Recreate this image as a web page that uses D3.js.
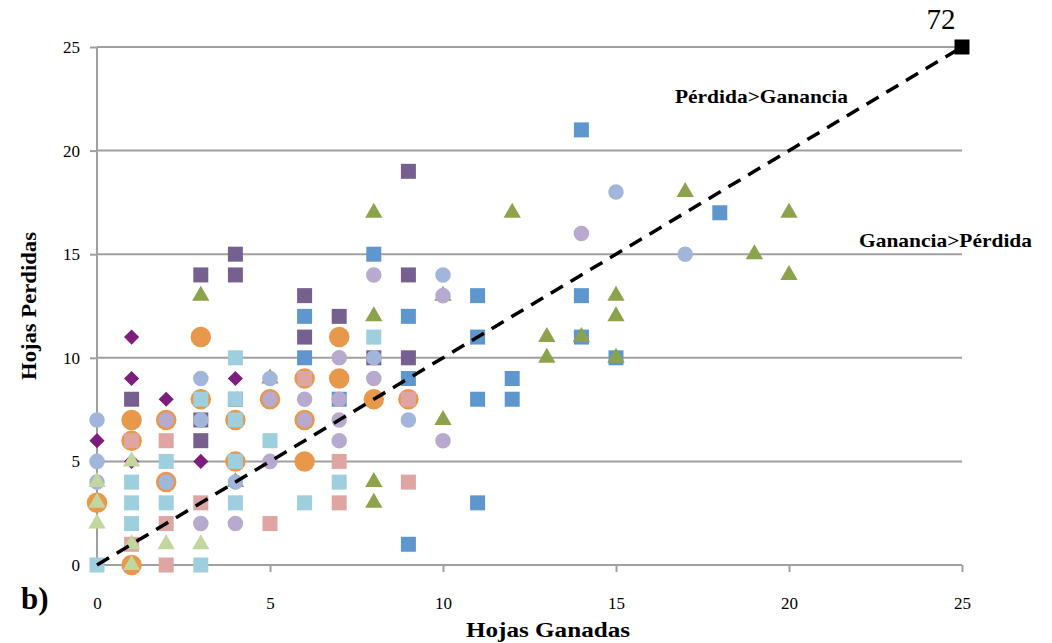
<!DOCTYPE html>
<html><head><meta charset="utf-8">
<script src="https://cdn.jsdelivr.net/npm/d3@7"></script>
<style>body{margin:0;background:#fff}svg{display:block}</style>
</head><body>
<svg id="c" width="1052" height="643"></svg>
<script>
const xTicks = [0,5,10,15,20,25];
const yTicks = [0,5,10,15,20,25];
const blueSq = [[6,12],[6,10],[7,8],[8,15],[9,12],[9,9],[9,1],[11,13],[11,11],[11,8],[11,3],[12,9],[12,8],[14,21],[14,13],[14,11],[15,10],[18,17]];
const oliveTri = [[3,13],[4,4],[5,9],[8,17],[8,12],[8,4],[8,3],[10,13],[10,7],[12,17],[13,11],[13,10],[14,11],[15,13],[15,12],[15,10],[17,18],[19,15],[20,17],[20,14]];
const purpleSq = [[1,8],[3,14],[3,7],[3,6],[4,15],[4,14],[4,8],[6,13],[6,11],[7,12],[8,10],[9,19],[9,14],[9,10]];
const diamonds = [[0,6],[1,11],[1,9],[1,5],[2,8],[3,5],[4,9]];
const orange = [[0,3],[1,7],[1,6],[1,0],[2,7],[2,4],[3,11],[3,8],[4,7],[4,5],[5,8],[6,9],[6,7],[6,5],[7,11],[7,9],[8,8],[9,8]];
const periwinkle = [[0,7],[0,5],[0,4],[2,4],[3,9],[3,7],[4,4],[5,9],[8,10],[9,7],[10,14],[15,18],[17,15]];
const lavender = [[2,7],[3,2],[4,2],[5,8],[5,5],[6,8],[6,7],[7,10],[7,8],[7,7],[7,6],[8,14],[8,9],[10,13],[10,6],[14,16]];
const pink = [[1,6],[1,1],[2,6],[2,2],[2,0],[3,3],[5,2],[6,9],[7,5],[7,3],[9,8],[9,4]];
const lightBlue = [[0,0],[1,4],[1,3],[1,2],[2,5],[2,3],[3,8],[3,0],[4,10],[4,8],[4,7],[4,5],[4,3],[5,6],[6,3],[7,4],[8,11]];
const lightGreen = [[0,4],[0,3],[0,2],[1,5],[1,1],[1,0],[2,1],[3,1]];
const totalPoint = [[25,25]];
const totalLabel = "72";
const refLine = [[0,0],[25,25]];

const svg = d3.select("#c");
const x = d3.scaleLinear().domain([0,25]).range([97,962]);
const y = d3.scaleLinear().domain([0,25]).range([565,47]);
const serif = "'Liberation Serif','Times New Roman',serif";

// gridlines
svg.append("g").selectAll("line").data(yTicks.filter(d=>d>0)).join("line")
  .attr("x1",x(0)).attr("x2",x(25)).attr("y1",d=>y(d)).attr("y2",d=>y(d))
  .attr("stroke","#a0a0a0").attr("stroke-width",2);

// axes
const ya = svg.append("g").attr("transform",`translate(${x(0)},0)`)
  .call(d3.axisLeft(y).tickValues(yTicks).tickSize(7).tickPadding(10));
const xa = svg.append("g").attr("transform",`translate(0,${y(0)})`)
  .call(d3.axisBottom(x).tickValues(xTicks).tickSize(7).tickPadding(25));
[ya,xa].forEach(a=>{
  a.select(".domain").attr("stroke","#a0a0a0").attr("stroke-width",2);
  a.selectAll(".tick line").attr("stroke","#a0a0a0").attr("stroke-width",2);
  a.selectAll(".tick text").attr("font-family",serif).attr("font-size",17).attr("fill","#000");
});
ya.select(".domain").attr("d",`M0,${y(0)}V${y(25)}`);
xa.select(".domain").attr("d",`M${x(0)},0H${x(25)}`);

function series(data,type,size,fill,rot){
  svg.append("g").selectAll("path").data(data).join("path")
    .attr("transform",d=>`translate(${x(d[0])},${y(d[1])})${rot?` rotate(${rot})`:""}`)
    .attr("d",d3.symbol().type(type).size(size)()).attr("fill",fill);
}
series(blueSq,d3.symbolSquare,225,"#5e97cd");
series(oliveTri,d3.symbolTriangle,130,"#8ca34c");
series(purpleSq,d3.symbolSquare,225,"#76608f");
series(diamonds,d3.symbolSquare,115,"#7d1e7e",45);
series(orange,d3.symbolCircle,330,"#e8984a");
series(periwinkle,d3.symbolCircle,190,"#a2b6dc");
series(lavender,d3.symbolCircle,190,"#b8aacf");
series(pink,d3.symbolSquare,225,"#dea5a3");
series(lightBlue,d3.symbolSquare,225,"#9dcfde");
series(lightGreen,d3.symbolTriangle,130,"#c3d69d");

// dashed reference line
svg.append("path").datum(refLine)
  .attr("d",d3.line().x(d=>x(d[0])).y(d=>y(d[1])))
  .attr("stroke","#000").attr("stroke-width",3.5).attr("stroke-dasharray","14,9").attr("fill","none");

series(totalPoint,d3.symbolSquare,225,"#000");
svg.append("text").attr("x",x(totalPoint[0][0])-21).attr("y",y(totalPoint[0][1])-18)
  .attr("text-anchor","middle").attr("font-family",serif).attr("font-size",29).text(totalLabel);

// annotations
svg.append("text").attr("x",675).attr("y",103).attr("font-family",serif).attr("font-weight","bold").attr("font-size",19)
  .attr("textLength",173).attr("lengthAdjust","spacingAndGlyphs").text("Pérdida>Ganancia");
svg.append("text").attr("x",859).attr("y",247).attr("font-family",serif).attr("font-weight","bold").attr("font-size",19)
  .attr("textLength",173).attr("lengthAdjust","spacingAndGlyphs").text("Ganancia>Pérdida");

svg.append("text").attr("x",466).attr("y",637).attr("font-family",serif).attr("font-weight","bold").attr("font-size",20)
  .attr("textLength",164).attr("lengthAdjust","spacingAndGlyphs").text("Hojas Ganadas");
svg.append("text").attr("transform","translate(36,380) rotate(-90)").attr("font-family",serif).attr("font-weight","bold").attr("font-size",20)
  .attr("textLength",148).attr("lengthAdjust","spacingAndGlyphs").text("Hojas Perdidas");
svg.append("text").attr("x",21).attr("y",609).attr("font-family",serif).attr("font-weight","bold").attr("font-size",31).text("b)");
</script>
</body></html>
